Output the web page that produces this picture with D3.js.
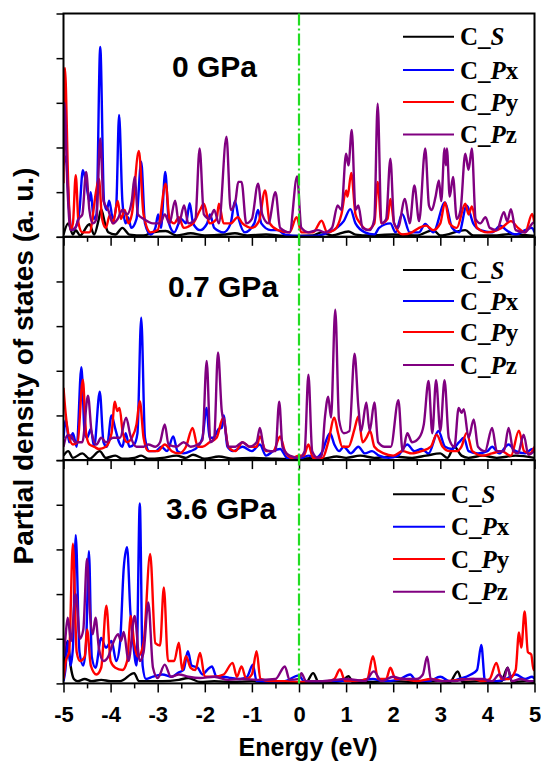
<!DOCTYPE html>
<html><head><meta charset="utf-8">
<script src="https://cdn.jsdelivr.net/npm/d3@7"></script>
<style>body{margin:0;background:#fff}</style>
</head><body><svg id="c" width="541" height="763"></svg>
<script>
// ---------- data ----------
const xTicks = [-5,-4,-3,-2,-1,0,1,2,3,4,5];
const xMinorTicks = [-4.5,-3.5,-2.5,-1.5,-0.5,0.5,1.5,2.5,3.5,4.5];
const yTicks = [0,1,2,3,4,5];
const panelLabels = ["0 GPa","0.7 GPa","3.6 GPa"];
const seriesNames = [["C_","S",""],["C_","P","x"],["C_","P","y"],["C_","P","z"]];
const seriesColors = ["#000000","#0000ff","#ff0000","#800080"];

// 0 GPa
const p0_S = [[-5,0.05],[-4.9,0.3],[-4.8,0.05],[-4.74,0.15],[-4.65,0.03],[-4.45,0.28],[-4.35,0.05],[-4.25,0.4],[-4.2,0.62],[-4.12,0.3],[-4.05,0.1],[-3.9,0.05],[-3.75,0.2],[-3.6,0.05],[-3.3,0.03],[-3.1,0.1],[-2.83,0.13],[-2.6,0.03],[-2.3,0.08],[-2.0,0.03],[-1.6,0.05],[-1.36,0.08],[-1.1,0.03],[-0.7,0.05],[-0.3,0.02],[0,0.02],[0.3,0.03],[0.48,0.1],[0.7,0.03],[1.05,0.12],[1.2,0.05],[1.5,0.03],[2.0,0.05],[2.5,0.03],[2.85,0.15],[3.0,0.03],[3.53,0.15],[3.7,0.03],[4.2,0.03],[4.45,0.06],[5,0.02]];
const p0_Px = [[-5,1.6],[-4.95,1.8],[-4.88,0.6],[-4.83,0.15],[-4.75,0.2],[-4.66,0.6],[-4.59,1.49],[-4.52,1.2],[-4.45,0.8],[-4.42,1.0],[-4.36,0.4],[-4.3,0.5],[-4.22,4.25],[-4.14,0.8],[-4.08,0.6],[-4.03,0.81],[-3.95,0.4],[-3.88,0.7],[-3.82,2.73],[-3.75,0.8],[-3.68,0.3],[-3.63,0.44],[-3.56,0.2],[-3.45,0.4],[-3.35,1.68],[-3.27,0.3],[-3.15,0.05],[-3.05,0.2],[-2.99,0.5],[-2.93,0.2],[-2.84,1.45],[-2.76,0.3],[-2.65,0.1],[-2.5,0.4],[-2.4,0.3],[-2.32,0.75],[-2.25,0.3],[-2.1,0.15],[-1.95,0.3],[-1.89,0.5],[-1.8,0.2],[-1.6,0.1],[-1.45,0.3],[-1.36,0.8],[-1.28,0.4],[-1.15,0.1],[-0.95,0.3],[-0.87,0.6],[-0.8,0.3],[-0.6,0.15],[-0.45,0.15],[-0.3,0.05],[0,0.02],[0.3,0.02],[0.5,0.05],[0.8,0.2],[0.95,0.35],[1.09,0.62],[1.2,0.3],[1.4,0.1],[1.6,0.05],[1.7,0.2],[1.94,0.3],[2.05,0.1],[2.19,0.51],[2.35,0.1],[2.55,0.1],[2.68,0.29],[2.85,0.1],[3.1,0.77],[3.25,0.2],[3.4,0.1],[3.56,0.7],[3.7,0.3],[3.85,0.15],[4.1,0.1],[4.28,0.25],[4.4,0.15],[4.6,0.05],[4.8,0.15],[4.95,0.2],[5,0.1]];
const p0_Py = [[-5,1.2],[-4.97,3.78],[-4.9,1.2],[-4.85,0.15],[-4.8,0.3],[-4.74,1.38],[-4.68,0.3],[-4.6,0.1],[-4.45,0.1],[-4.3,1.07],[-4.25,1.3],[-4.18,0.4],[-4.1,0.2],[-4.02,0.48],[-3.95,0.3],[-3.85,0.8],[-3.78,0.4],[-3.7,0.6],[-3.62,0.3],[-3.55,0.5],[-3.4,1.92],[-3.3,0.5],[-3.15,0.1],[-3.0,0.15],[-2.83,1.19],[-2.75,0.4],[-2.65,0.3],[-2.55,0.44],[-2.45,0.2],[-2.25,0.3],[-2.1,0.6],[-2.02,0.74],[-1.9,0.3],[-1.75,0.4],[-1.7,0.74],[-1.6,0.3],[-1.45,0.3],[-1.3,0.44],[-1.2,0.3],[-1.0,0.2],[-0.85,0.35],[-0.72,1.04],[-0.62,0.3],[-0.45,0.15],[-0.2,0.1],[-0.05,0.44],[0.05,0.1],[0.3,0.1],[0.48,0.36],[0.6,0.1],[0.75,0.15],[0.9,0.5],[1.0,1.04],[1.03,0.9],[1.11,1.43],[1.2,0.5],[1.3,0.3],[1.45,0.15],[1.6,0.3],[1.67,1.23],[1.75,0.3],[1.88,0.4],[1.94,0.85],[2.02,0.3],[2.2,0.05],[2.4,0.1],[2.55,0.2],[2.7,0.25],[2.85,0.15],[3.0,0.3],[3.1,0.77],[3.2,0.3],[3.35,0.2],[3.53,0.74],[3.6,0.5],[3.67,0.68],[3.78,0.2],[4.0,0.1],[4.3,0.2],[4.5,0.35],[4.65,0.2],[4.8,0.1],[4.95,0.51],[5,0.3]];
const p0_Pz = [[-5,1.8],[-4.98,3.0],[-4.92,1.2],[-4.85,0.15],[-4.75,0.2],[-4.68,0.4],[-4.6,0.5],[-4.52,1.45],[-4.45,0.6],[-4.38,0.3],[-4.3,0.4],[-4.22,2.2],[-4.15,0.8],[-4.05,0.6],[-3.95,0.3],[-3.85,0.4],[-3.75,0.6],[-3.65,0.5],[-3.55,0.8],[-3.49,1.34],[-3.42,0.5],[-3.3,0.4],[-3.1,0.3],[-2.95,0.3],[-2.85,0.5],[-2.75,0.3],[-2.63,0.81],[-2.55,0.3],[-2.44,0.7],[-2.35,0.3],[-2.2,0.4],[-2.11,1.98],[-2.02,0.5],[-1.9,0.4],[-1.8,0.6],[-1.7,0.3],[-1.54,2.24],[-1.45,0.6],[-1.35,0.8],[-1.29,1.23],[-1.22,1.23],[-1.12,0.3],[-1.0,0.4],[-0.87,1.19],[-0.78,0.5],[-0.65,0.3],[-0.5,1.0],[-0.4,0.2],[-0.2,0.1],[-0.04,1.35],[0.05,0.2],[0.2,0.1],[0.4,0.15],[0.55,0.1],[0.7,0.2],[0.82,0.7],[0.9,0.6],[1.0,1.86],[1.05,1.6],[1.12,2.39],[1.2,0.6],[1.26,0.7],[1.35,0.2],[1.5,0.15],[1.6,0.4],[1.67,2.98],[1.75,0.3],[1.85,0.4],[1.94,1.75],[2.02,0.3],[2.1,0.2],[2.25,0.85],[2.35,0.3],[2.45,1.15],[2.55,0.35],[2.68,1.98],[2.76,0.7],[2.82,0.6],[2.9,0.9],[2.97,1.26],[3.02,0.8],[3.09,1.98],[3.12,1.6],[3.14,1.98],[3.2,0.9],[3.27,1.34],[3.35,0.4],[3.43,0.6],[3.53,1.86],[3.6,1.5],[3.67,1.98],[3.75,0.4],[3.85,0.3],[3.96,0.44],[4.05,0.2],[4.2,0.15],[4.35,0.55],[4.42,0.35],[4.5,0.62],[4.6,0.15],[4.8,0.1],[4.99,0.32],[5,0.3]];

// 0.7 GPa
const p07_S = [[-5,0.1],[-4.9,0.2],[-4.8,0.05],[-4.6,0.15],[-4.45,0.03],[-4.23,0.2],[-4.1,0.05],[-3.9,0.1],[-3.75,0.03],[-3.5,0.05],[-3.35,0.1],[-3.2,0.03],[-2.9,0.05],[-2.6,0.1],[-2.4,0.05],[-2.25,0.12],[-2.0,0.03],[-1.7,0.08],[-1.4,0.03],[-1.0,0.05],[-0.5,0.03],[0,0.02],[0.3,0.05],[0.5,0.03],[0.8,0.08],[1.0,0.05],[1.3,0.1],[1.6,0.05],[2.0,0.08],[2.4,0.05],[2.7,0.1],[3.0,0.15],[3.15,0.05],[3.3,0.3],[3.45,0.1],[3.6,0.05],[3.9,0.1],[4.2,0.05],[4.6,0.1],[5,0.05]];
const p07_Px = [[-5,0.5],[-4.95,0.9],[-4.88,0.4],[-4.8,0.6],[-4.72,0.3],[-4.62,2.08],[-4.55,0.6],[-4.5,0.5],[-4.42,0.7],[-4.35,0.3],[-4.23,1.53],[-4.15,0.4],[-4.08,0.3],[-3.98,1.0],[-3.9,0.7],[-3.82,0.4],[-3.75,0.3],[-3.68,0.6],[-3.6,0.3],[-3.5,0.35],[-3.43,0.6],[-3.35,3.19],[-3.27,0.5],[-3.18,0.2],[-3.05,0.2],[-2.92,0.3],[-2.8,0.2],[-2.67,0.53],[-2.58,0.2],[-2.45,0.15],[-2.3,0.2],[-2.15,0.3],[-2.05,0.5],[-1.96,1.17],[-1.9,0.5],[-1.82,0.5],[-1.7,0.7],[-1.64,0.72],[-1.6,1.0],[-1.52,0.3],[-1.4,0.2],[-1.2,0.3],[-1.0,0.2],[-0.83,0.35],[-0.7,0.1],[-0.55,0.2],[-0.4,0.25],[-0.25,0.05],[0,0.03],[0.2,0.1],[0.35,0.05],[0.5,0.2],[0.58,0.45],[0.66,0.6],[0.75,0.35],[0.85,0.2],[0.95,0.3],[1.1,0.15],[1.26,0.3],[1.4,0.15],[1.55,0.2],[1.7,0.1],[1.9,0.05],[2.1,0.1],[2.3,0.35],[2.45,0.2],[2.6,0.25],[2.75,0.15],[2.96,0.65],[3.1,0.3],[3.25,0.25],[3.4,0.4],[3.5,0.5],[3.6,0.2],[3.8,0.15],[4.0,0.2],[4.1,0.3],[4.25,0.15],[4.45,0.35],[4.6,0.2],[4.8,0.15],[4.95,0.25],[5,0.2]];
const p07_Py = [[-5,1.62],[-4.95,1.0],[-4.9,0.6],[-4.8,0.35],[-4.7,0.4],[-4.59,1.8],[-4.52,0.6],[-4.45,0.35],[-4.35,0.3],[-4.25,0.25],[-4.1,0.3],[-3.98,0.6],[-3.91,1.31],[-3.86,1.1],[-3.81,1.17],[-3.74,0.6],[-3.65,0.4],[-3.55,0.5],[-3.45,0.8],[-3.38,1.32],[-3.3,0.5],[-3.2,0.2],[-3.0,0.2],[-2.85,0.35],[-2.7,0.2],[-2.55,0.15],[-2.4,0.3],[-2.26,0.72],[-2.15,0.3],[-2.05,0.3],[-1.9,0.4],[-1.75,0.5],[-1.61,0.95],[-1.5,0.3],[-1.35,0.2],[-1.2,0.4],[-1.05,0.3],[-0.9,0.3],[-0.83,0.53],[-0.7,0.2],[-0.55,0.2],[-0.4,0.53],[-0.3,0.2],[-0.15,0.05],[0,0.1],[0.1,0.1],[0.2,0.35],[0.3,0.05],[0.5,0.05],[0.62,0.4],[0.75,0.95],[0.83,0.6],[0.92,0.3],[1.05,0.3],[1.18,0.7],[1.26,0.98],[1.35,0.4],[1.43,0.5],[1.51,0.65],[1.6,0.3],[1.8,0.15],[2.0,0.1],[2.2,0.2],[2.4,0.15],[2.6,0.2],[2.8,0.3],[2.92,0.57],[3.05,0.3],[3.2,0.2],[3.35,0.2],[3.45,0.3],[3.56,0.61],[3.68,0.2],[3.9,0.1],[4.1,0.15],[4.3,0.2],[4.5,0.1],[4.67,0.66],[4.78,0.2],[4.9,0.15],[5,0.3]];
const p07_Pz = [[-5,0.3],[-4.92,0.55],[-4.85,0.55],[-4.75,0.4],[-4.6,0.4],[-4.48,1.44],[-4.4,0.6],[-4.3,0.35],[-4.2,0.5],[-4.1,0.4],[-3.95,0.5],[-3.8,0.5],[-3.67,0.95],[-3.58,0.55],[-3.45,0.3],[-3.3,0.3],[-3.2,0.35],[-3.05,0.3],[-2.95,0.4],[-2.85,0.8],[-2.77,0.35],[-2.6,0.3],[-2.45,0.4],[-2.3,0.3],[-2.15,0.35],[-2.05,0.45],[-1.96,2.22],[-1.88,0.4],[-1.8,0.5],[-1.72,2.41],[-1.64,1.1],[-1.58,0.8],[-1.5,0.3],[-1.35,0.3],[-1.2,0.4],[-1.05,0.3],[-0.9,0.4],[-0.83,0.72],[-0.74,0.25],[-0.6,0.2],[-0.5,0.2],[-0.42,1.31],[-0.35,0.3],[-0.2,0.1],[0,0.05],[0.12,0.2],[0.2,1.91],[0.28,0.2],[0.4,0.05],[0.48,0.1],[0.55,0.95],[0.62,1.42],[0.68,0.95],[0.77,3.37],[0.85,0.9],[0.95,0.6],[1.07,0.65],[1.18,2.38],[1.26,1.2],[1.32,0.65],[1.43,1.29],[1.5,0.65],[1.6,1.29],[1.68,0.4],[1.82,0.3],[1.95,0.3],[2.11,1.34],[2.2,0.2],[2.3,0.6],[2.4,0.4],[2.55,0.5],[2.65,0.8],[2.75,1.77],[2.83,0.6],[2.91,1.79],[3.0,0.65],[3.09,1.79],[3.18,0.5],[3.3,0.3],[3.39,1.17],[3.45,1.06],[3.5,1.14],[3.6,0.5],[3.71,0.91],[3.8,0.3],[3.95,0.2],[4.1,0.72],[4.2,0.2],[4.35,0.2],[4.45,0.72],[4.55,0.2],[4.65,0.15],[4.77,0.57],[4.87,0.12],[5,0.2]];

// 3.6 GPa
const p36_S = [[-5,0.3],[-4.91,0.95],[-4.85,0.4],[-4.78,0.1],[-4.7,0.05],[-4.55,0.1],[-4.4,0.05],[-4.2,0.08],[-4.0,0.05],[-3.8,0.05],[-3.5,0.23],[-3.4,0.05],[-3.2,0.05],[-2.9,0.05],[-2.55,0.08],[-2.35,0.12],[-2.1,0.03],[-1.8,0.05],[-1.4,0.03],[-1.0,0.05],[-0.6,0.02],[0,0.02],[0.15,0.02],[0.3,0.23],[0.42,0.02],[0.7,0.03],[0.9,0.05],[1.05,0.16],[1.15,0.02],[1.5,0.03],[2.0,0.05],[2.5,0.03],[3.0,0.05],[3.2,0.03],[3.37,0.27],[3.47,0.03],[3.8,0.05],[4.1,0.03],[4.3,0.05],[4.43,0.35],[4.52,0.03],[4.8,0.05],[5,0.03]];
const p36_Px = [[-5,0.05],[-4.96,0.3],[-4.91,0.95],[-4.85,0.4],[-4.8,0.8],[-4.74,3.32],[-4.66,0.7],[-4.58,0.4],[-4.52,0.9],[-4.46,2.96],[-4.4,0.6],[-4.32,0.35],[-4.2,1.02],[-4.1,0.8],[-3.98,0.95],[-3.88,0.5],[-3.8,0.9],[-3.72,2.6],[-3.65,3.05],[-3.58,1.6],[-3.52,0.9],[-3.45,0.4],[-3.38,4.03],[-3.32,0.4],[-3.25,0.1],[-3.1,0.15],[-2.9,0.2],[-2.7,0.15],[-2.55,0.25],[-2.45,0.3],[-2.36,0.72],[-2.28,0.4],[-2.15,0.35],[-2.05,0.2],[-1.95,0.3],[-1.85,0.38],[-1.75,0.15],[-1.6,0.15],[-1.45,0.12],[-1.25,0.1],[-1.1,0.15],[-0.98,0.42],[-0.9,0.05],[-0.6,0.03],[-0.3,0.05],[0,0.18],[0.1,0.05],[0.3,0.03],[0.6,0.05],[0.9,0.05],[1.2,0.05],[1.57,0.1],[1.8,0.05],[2.1,0.08],[2.36,0.2],[2.5,0.05],[2.75,0.05],[3.0,0.15],[3.2,0.05],[3.4,0.1],[3.65,0.2],[3.78,0.3],[3.87,0.86],[3.95,0.05],[4.2,0.05],[4.4,0.1],[4.6,0.2],[4.8,0.1],[4.95,0.15],[5,0.1]];
const p36_Py = [[-5,0.1],[-4.95,0.5],[-4.88,0.7],[-4.8,3.13],[-4.72,0.7],[-4.65,0.5],[-4.55,0.6],[-4.5,1.21],[-4.42,0.4],[-4.3,0.2],[-4.2,0.35],[-4.09,1.74],[-4.0,0.5],[-3.9,0.35],[-3.75,0.3],[-3.65,0.5],[-3.57,1.51],[-3.5,0.9],[-3.42,0.6],[-3.3,0.9],[-3.16,2.9],[-3.05,0.9],[-2.95,0.85],[-2.87,2.15],[-2.78,0.5],[-2.65,0.5],[-2.55,0.91],[-2.48,0.3],[-2.4,0.61],[-2.3,0.35],[-2.2,0.3],[-2.1,0.68],[-2.0,0.15],[-1.8,0.15],[-1.6,0.2],[-1.41,0.46],[-1.32,0.15],[-1.22,0.38],[-1.12,0.1],[-1.0,0.2],[-0.9,0.72],[-0.82,0.1],[-0.6,0.05],[-0.3,0.05],[0,0.03],[0.3,0.05],[0.6,0.05],[0.75,0.1],[0.87,0.31],[0.98,0.05],[1.2,0.05],[1.45,0.1],[1.57,0.61],[1.68,0.1],[1.85,0.1],[1.94,0.35],[2.05,0.1],[2.2,0.1],[2.5,0.05],[2.8,0.1],[3.1,0.05],[3.4,0.08],[3.7,0.1],[3.9,0.05],[4.05,0.1],[4.19,0.46],[4.3,0.1],[4.45,0.1],[4.6,0.3],[4.67,1.14],[4.72,0.8],[4.79,1.61],[4.86,0.7],[4.93,0.65],[4.98,0.3],[5,0.3]];
const p36_Pz = [[-5,0.6],[-4.97,0.9],[-4.91,1.47],[-4.84,0.95],[-4.74,2.0],[-4.65,1.0],[-4.58,1.2],[-4.5,2.79],[-4.44,1.6],[-4.38,1.1],[-4.32,1.47],[-4.25,0.8],[-4.15,0.5],[-4.05,0.6],[-3.95,0.9],[-3.84,1.1],[-3.78,0.95],[-3.72,1.15],[-3.62,0.5],[-3.49,1.51],[-3.38,0.5],[-3.3,0.7],[-3.2,1.81],[-3.1,0.35],[-3.0,0.12],[-2.85,0.42],[-2.72,0.15],[-2.55,0.2],[-2.35,0.15],[-2.1,0.12],[-1.8,0.15],[-1.5,0.08],[-1.2,0.1],[-0.9,0.08],[-0.5,0.1],[-0.3,0.38],[-0.2,0.08],[0,0.1],[0.05,0.23],[0.15,0.05],[0.5,0.05],[1.0,0.1],[1.4,0.05],[1.59,0.27],[1.75,0.05],[2.0,0.15],[2.2,0.1],[2.5,0.1],[2.63,0.2],[2.72,0.6],[2.8,0.1],[3.0,0.05],[3.3,0.05],[3.6,0.1],[3.9,0.1],[4.1,0.05],[4.25,0.2],[4.35,0.1],[4.43,0.35],[4.52,0.05],[4.7,0.1],[4.9,0.05],[5,0.05]];

const panels = [
  [p0_S, p0_Px, p0_Py, p0_Pz],
  [p07_S, p07_Px, p07_Py, p07_Pz],
  [p36_S, p36_Px, p36_Py, p36_Pz]
];

// ---------- layout ----------
const L = 63.5, R = 534.5;
const tops = [13.5, 236.8, 460.1];
const PH = 223.3;
const legendLayout = [
  {x1:403, x2:454, tx:460, ys:[36.7,70,102,134.5]},
  {x1:403, x2:454, tx:460, ys:[270,301,332,365]},
  {x1:393, x2:445, tx:451, ys:[494.3,526.7,559,591.7]}
];
const labelPos = [{x:172, y:77},{x:168, y:297},{x:166, y:519}];

const svg = d3.select("#c");
const x = d3.scaleLinear().domain([-5,5]).range([L,R]);
const SANS = "'Liberation Sans', Arial, sans-serif";
const SERIF = "'Liberation Serif', 'Times New Roman', serif";

panels.forEach((series, i) => {
  const top = tops[i];
  const y = d3.scaleLinear().domain([0,5]).range([top+PH, top]);
  const g = svg.append("g");
  const cid = "clip"+i;
  svg.append("clipPath").attr("id",cid).append("rect")
     .attr("x",L).attr("y",top).attr("width",R-L).attr("height",PH);
  const line = d3.line().x(d=>x(d[0])).y(d=>y(d[1])).curve(d3.curveMonotoneX);
  const cg = g.append("g").attr("clip-path",`url(#${cid})`);
  series.forEach((s,k)=>{
    cg.append("path").attr("d",line(s)).attr("fill","none")
      .attr("stroke",seriesColors[k]).attr("stroke-width",2.4)
      .attr("stroke-linejoin","round");
  });

  // left ticks
  const ay = g.append("g").attr("transform",`translate(${L},0)`)
    .call(d3.axisLeft(y).tickValues(yTicks).tickSize(7).tickFormat(""));
  ay.select(".domain").remove();
  ay.selectAll("line").attr("stroke","#000").attr("stroke-width",1.5);

  // bottom ticks
  const bx = g.append("g").attr("transform",`translate(0,${top+PH})`)
    .call(d3.axisBottom(x).tickValues(xTicks).tickSize(9)
      .tickFormat(i===2 ? (d=>String(d)) : ""));
  bx.select(".domain").remove();
  bx.selectAll("line").attr("stroke","#000").attr("stroke-width",1.5);
  bx.selectAll("text").attr("y",38.5).attr("dy",null)
    .attr("font-family",SANS).attr("font-weight","bold").attr("font-size",22).attr("fill","#000");
  const bm = g.append("g").attr("transform",`translate(0,${top+PH})`)
    .call(d3.axisBottom(x).tickValues(xMinorTicks).tickSize(5).tickFormat(""));
  bm.select(".domain").remove();
  bm.selectAll("line").attr("stroke","#000").attr("stroke-width",1.5);

  // frame
  g.append("rect").attr("x",L).attr("y",top).attr("width",R-L).attr("height",PH)
    .attr("fill","none").attr("stroke","#000").attr("stroke-width",2);

  // panel label
  g.append("text").attr("x",labelPos[i].x).attr("y",labelPos[i].y)
    .attr("font-family",SANS).attr("font-weight","bold").attr("font-size",30)
    .text(panelLabels[i]);

  // legend
  const lg = legendLayout[i];
  seriesNames.forEach((nm,k)=>{
    const yy = lg.ys[k];
    g.append("line").attr("x1",lg.x1).attr("x2",lg.x2).attr("y1",yy).attr("y2",yy)
      .attr("stroke",seriesColors[k]).attr("stroke-width",2);
    const t = g.append("text").attr("x",lg.tx).attr("y",yy+8.5)
      .attr("font-family",SERIF).attr("font-weight","bold").attr("font-size",25);
    t.append("tspan").text(nm[0]);
    t.append("tspan").attr("font-style","italic").text(nm[1]);
    if (nm[2]) t.append("tspan").text(nm[2]);
  });
});

// Fermi level line
svg.append("line").attr("x1",x(0)).attr("x2",x(0))
  .attr("y1",tops[0]).attr("y2",tops[2]+PH)
  .attr("stroke","#22dd22").attr("stroke-width",2.2)
  .attr("stroke-dasharray","12,3,2,3");

// axis titles
svg.append("text").attr("x",308).attr("y",756).attr("text-anchor","middle")
  .attr("font-family",SANS).attr("font-weight","bold").attr("font-size",25)
  .text("Energy (eV)");
svg.append("text").attr("transform","translate(33,366) rotate(-90)")
  .attr("text-anchor","middle")
  .attr("font-family",SANS).attr("font-weight","bold").attr("font-size",28)
  .text("Partial density of states (a. u.)");
</script></body></html>
